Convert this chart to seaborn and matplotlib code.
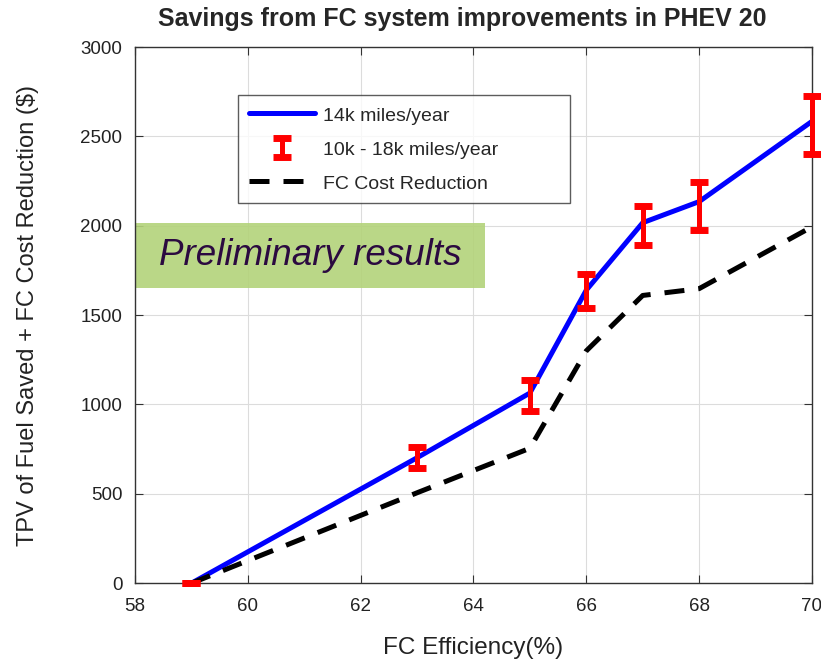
import numpy as np
import pandas as pd
import matplotlib
matplotlib.use("Agg")
import matplotlib.pyplot as plt
import seaborn as sns
from matplotlib.patches import Rectangle

# data
efficiency = [59, 63, 65, 66, 67, 68, 70]
savings_14k = [0, 702, 1064, 1640, 2017, 2135, 2584]
savings_low = [0, 646, 964, 1541, 1890, 1976, 2403]
savings_high = [0, 762, 1135, 1732, 2110, 2243, 2727]
fc_cost_reduction = [0, 506, 755, 1300, 1610, 1648, 1994]

df = pd.DataFrame({
    "eff": efficiency,
    "s14k": savings_14k,
    "cost": fc_cost_reduction,
})

sns.set_style("white")
plt.rcParams["font.family"] = ["Liberation Sans", "DejaVu Sans"]

fig = plt.figure(figsize=(8.21, 6.62), dpi=100)
ax = fig.add_axes([0.1644, 0.119, 0.8246, 0.81])

sns.lineplot(data=df, x="eff", y="s14k", ax=ax, color="#0000ff",
             linewidth=3.6, label="14k miles/year", zorder=3)

mid = np.array(savings_14k)
lo = mid - np.array(savings_low)
hi = np.array(savings_high) - mid
eb = ax.errorbar(efficiency, mid, yerr=[lo, hi], fmt="none", ecolor="#ff0000",
                 elinewidth=3.6, capsize=6.5, capthick=5, zorder=4,
                 label="10k - 18k miles/year")
for art in eb.lines[1] + eb.lines[2]:
    art.set_clip_on(False)

sns.lineplot(data=df, x="eff", y="cost", ax=ax, color="black",
             linewidth=3.6, linestyle=(0, (4, 2.8)), label="FC Cost Reduction",
             zorder=3)

# "Preliminary results" banner
ax.add_patch(Rectangle((58, 1652), 6.2, 361, facecolor="#b3d37a",
                       alpha=0.9, edgecolor="none", zorder=1))
ax.text(61.1, 1835, "Preliminary results", fontsize=26.5, style="italic",
        color="#2b0a40", ha="center", va="center", zorder=2)

ax.set_xlim(58, 70)
ax.set_ylim(0, 3000)
ax.set_xticks(range(58, 71, 2))
ax.set_yticks(range(0, 3001, 500))
ax.grid(True, color="#dcdcdc", linewidth=0.8)
ax.tick_params(direction="in", length=6, top=True, right=True, bottom=True,
               left=True, labelsize=13.5, color="#333333", labelcolor="#222222")
ax.tick_params(axis="x", pad=11)
ax.tick_params(axis="y", pad=9)
for s in ax.spines.values():
    s.set_color("#333333")
    s.set_linewidth(1.0)

ax.set_xlabel("FC Efficiency(%)", fontsize=17.5, color="#222222")
ax.set_ylabel(r"TPV of Fuel Saved + FC Cost Reduction (\$)", fontsize=17,
              color="#222222")
ax.xaxis.set_label_coords(0.5, -0.121)
ax.xaxis.label.set_va("center")
ax.yaxis.set_label_coords(-0.158, 0.5)
ax.yaxis.label.set_va("center")

fig.text(462 / 821, 0.971, "Savings from FC system improvements in PHEV 20",
         fontsize=18, fontweight="bold", ha="center", va="center")

handles, labels = ax.get_legend_handles_labels()
order = [labels.index(l) for l in ["14k miles/year", "10k - 18k miles/year",
                                   "FC Cost Reduction"]]
leg = ax.legend([handles[i] for i in order], [labels[i] for i in order],
                loc="upper left", bbox_to_anchor=(0.152, 0.699, 0.49, 0.211),
                mode="expand", fontsize=14, frameon=True, fancybox=False,
                edgecolor="#333333", handlelength=3.4, handletextpad=0.45,
                handleheight=0.9, borderpad=0.55, labelspacing=0.78,
                borderaxespad=0)
leg.get_frame().set_linewidth(1.0)

fig.savefig("out.png", dpi=100)
